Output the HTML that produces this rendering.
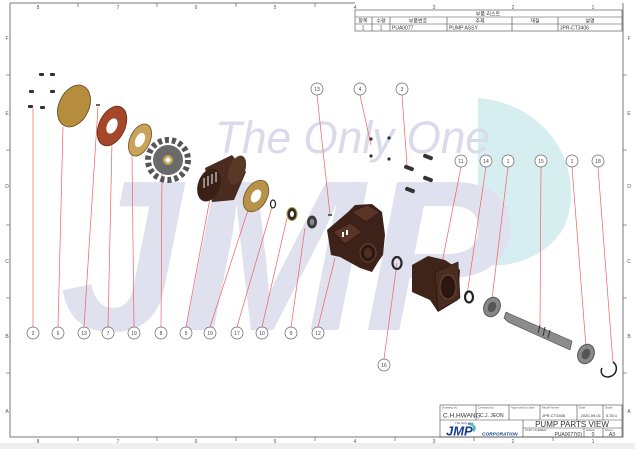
<!DOCTYPE html>
<html><head><meta charset="utf-8"><style>
html,body{margin:0;padding:0;background:#fff}
svg{display:block}
text{font-family:"Liberation Sans","Noto Sans CJK KR",sans-serif}
</style></head><body>
<svg width="635" height="449" viewBox="0 0 635 449" xmlns="http://www.w3.org/2000/svg">
<rect x="0" y="443" width="635" height="6" fill="#efefef"/>
<!-- watermark -->
<path d="M478,98 C555,105 585,175 565,225 C550,255 515,268 485,265 L478,265 Z" fill="#d6eef0"/>
<text x="60" y="330" font-size="215" font-weight="bold" font-style="italic" fill="#dfe1ef" textLength="450" lengthAdjust="spacingAndGlyphs">JMP</text>
<text x="215" y="153" font-size="45" font-style="italic" fill="#d9dbeb" textLength="275" lengthAdjust="spacingAndGlyphs">The Only One</text>
<!-- frame -->
<g stroke="#777" stroke-width="1" fill="none">
<path d="M10,3 V437 H623 V3"/>
<path d="M10,3 H355"/>
</g>
<g stroke="#777" stroke-width="0.8">
<path d="M78,437v4M157,437v4M236,437v4M315,437v4M395,437v4M474,437v4M553,437v4"/>
<path d="M78,3v4M157,3v4M236,3v4M315,3v4"/>
<path d="M10,75h-4M10,150h-4M10,225h-4M10,298h-4M10,373h-4"/>
<path d="M623,75h4M623,150h4M623,225h4M623,298h4M623,373h4"/>
</g>
<g font-size="5" fill="#555" text-anchor="middle">
<text x="38" y="9">8</text><text x="118" y="9">7</text><text x="196" y="9">6</text><text x="275" y="9">5</text><text x="355" y="9">4</text><text x="434" y="9">3</text><text x="513" y="9">2</text><text x="593" y="9">1</text>
<text x="38" y="443">8</text><text x="118" y="443">7</text><text x="196" y="443">6</text><text x="275" y="443">5</text><text x="355" y="443">4</text><text x="434" y="443">3</text><text x="513" y="443">2</text><text x="593" y="443">1</text>
<text x="7" y="40">F</text><text x="7" y="115">E</text><text x="7" y="188">D</text><text x="7" y="263">C</text><text x="7" y="338">B</text><text x="7" y="413">A</text>
<text x="629" y="40">F</text><text x="629" y="115">E</text><text x="629" y="188">D</text><text x="629" y="263">C</text><text x="629" y="338">B</text><text x="629" y="413">A</text>
</g>
<!-- parts list table -->
<g stroke="#444" stroke-width="0.6" fill="none">
<rect x="355" y="10" width="267" height="21"/>
<path d="M355,17H622M355,24H622M372,17V31M390,17V31M447,17V31M512,17V31M558,17V31"/>
</g>
<g font-size="5" fill="#333">
<text x="488" y="15.5" text-anchor="middle">부품 리스트</text>
<text x="363" y="22.5" text-anchor="middle">항목</text><text x="381" y="22.5" text-anchor="middle">수량</text><text x="418" y="22.5" text-anchor="middle">부품번호</text><text x="480" y="22.5" text-anchor="middle">주제</text><text x="535" y="22.5" text-anchor="middle">재질</text><text x="590" y="22.5" text-anchor="middle">설명</text>
<text x="363" y="29.5" text-anchor="middle">1</text><text x="381" y="29.5" text-anchor="middle">1</text><text x="392" y="29.5">PUA0077</text><text x="449" y="29.5">PUMP ASSY</text><text x="560" y="29.5">JPR-CT3406</text>
</g>
<!-- title block -->
<g stroke="#444" stroke-width="0.6" fill="none">
<rect x="440" y="405" width="182" height="32"/>
<path d="M440,420H622M476,405V420M509,405V420M540,405V420M577,405V420M603,405V420M523,420V437M523,428H622M584,428V437M603,428V437"/>
</g>
<g font-size="3" fill="#555">
<text x="442" y="408.5">Drawing by</text><text x="478" y="408.5">Checked by</text><text x="511" y="408.5">Approved by  date</text><text x="542" y="408.5">Model Name</text><text x="579" y="408.5">Date</text><text x="605" y="408.5">Scale</text>
<text x="525" y="431">PART NUMBER</text><text x="586" y="431">Edition</text><text x="605" y="431">Sheet</text>
</g>
<g font-size="5" fill="#333">
<text x="443" y="417.5" font-size="6.5">C.H.HWANG</text><text x="480" y="417">C.J. JEON</text><text x="542" y="417" font-size="4">JPR-CT3406</text><text x="601" y="417" text-anchor="end" font-size="4">2020-09-01</text><text x="606" y="417" font-size="4">0.33:1</text>
<text x="572" y="427" font-size="8" text-anchor="middle">PUMP PARTS VIEW</text>
<text x="582" y="436" text-anchor="end">PUA0077(0)</text><text x="593" y="436" text-anchor="middle">0</text><text x="612" y="436" text-anchor="middle">A3</text>
</g>
<text x="446" y="435.5" font-size="13" font-weight="bold" font-style="italic" fill="#1a3d8f">JMP</text>
<path d="M468,423 C475,423 478,428 474,432 L472,430 C474,428 473,425 468,425Z" fill="#4cb8c4"/>
<text x="482" y="435.5" font-size="4.8" font-weight="bold" font-style="italic" fill="#1a3d8f">CORPORATION</text>
<text x="455" y="424" font-size="3" fill="#1a3d8f">The Only One</text>
<!-- leaders -->
<g stroke="#f06060" stroke-width="0.7" fill="none">
<path d="M33,327L33,108M58,327L63,127M84,327L98,107M108,327L112,142M134,327L132,155M161,327L162,173M186,327L211,193M210,327L248,210M237,327L272,207M262,327L287,218M291,327L305,228M318,327L335,258"/>
<path d="M317,95L330,215M360,95L371,145M402,95L407,165M461,167L441,268M486,167L467,295M508,167L492,299M541,167L540,326M572,167L586,347M598,167L613,363M384,359L397,263"/>
</g>
<!-- parts -->
<g fill="#333">
<rect x="39" y="73" width="5" height="3" rx="1"/><rect x="50" y="73" width="5" height="3" rx="1"/><rect x="29" y="90" width="5" height="3" rx="1"/><rect x="50" y="90" width="5" height="3" rx="1"/><rect x="28" y="105" width="5" height="3" rx="1"/><rect x="40" y="106" width="5" height="3" rx="1"/>
<rect x="96" y="104" width="4" height="2" fill="#666"/>
<rect x="328" y="214" width="4" height="2" fill="#666"/>
<circle cx="371" cy="139" r="1.6"/><circle cx="371" cy="156" r="1.6"/><circle cx="389" cy="138" r="1.6"/><circle cx="389" cy="159" r="1.6"/>
<g transform="rotate(20 428 157)"><rect x="423" y="155" width="10" height="4" rx="1.5"/></g>
<g transform="rotate(20 409 168)"><rect x="404" y="166" width="10" height="4" rx="1.5"/></g>
<g transform="rotate(20 428 179)"><rect x="423" y="177" width="10" height="4" rx="1.5"/></g>
<g transform="rotate(20 410 190)"><rect x="405" y="188" width="10" height="4" rx="1.5"/></g>
</g>
<ellipse cx="74" cy="106" rx="15" ry="22" transform="rotate(25 74 106)" fill="#b58d3c" stroke="#5a4420" stroke-width="0.8"/>
<ellipse cx="112" cy="126" rx="13" ry="21" transform="rotate(25 112 126)" fill="#a4472a" stroke="#5a2a18" stroke-width="0.8"/>
<ellipse cx="112" cy="126" rx="5" ry="8" transform="rotate(25 112 126)" fill="#fff"/>
<ellipse cx="140" cy="140" rx="10" ry="17" transform="rotate(25 140 140)" fill="#c9a35a" stroke="#6a5424" stroke-width="0.8"/>
<ellipse cx="140" cy="140" rx="4.5" ry="7.5" transform="rotate(25 140 140)" fill="#fff"/>
<g transform="translate(168,160)">
<circle r="20" fill="none" stroke="#555" stroke-width="6" stroke-dasharray="4 3"/>
<circle r="15" fill="#6a6a6a"/><circle r="5" fill="#c9a35a"/><circle r="2.5" fill="#fff"/>
</g>
<g>
<path d="M205,168 L232,155 L246,172 L234,200 L212,202 Z" fill="#4a2b1f"/>
<ellipse cx="209" cy="185" rx="11" ry="17" transform="rotate(20 209 185)" fill="#3a2016"/>
<ellipse cx="237" cy="170" rx="8" ry="15" transform="rotate(20 237 170)" fill="#5a3828"/>
<g stroke="#fff" stroke-width="1.6" opacity="0.6"><path d="M204,178v10M208,176v10M212,174v10M216,172v10"/></g>
</g>
<ellipse cx="256" cy="196" rx="11" ry="17" transform="rotate(30 256 196)" fill="#b9924a" stroke="#6a5424" stroke-width="0.8"/>
<ellipse cx="256" cy="196" rx="4.5" ry="7" transform="rotate(30 256 196)" fill="#fff"/>
<ellipse cx="273" cy="204" rx="2.5" ry="4" fill="none" stroke="#222" stroke-width="1.2"/>
<ellipse cx="292" cy="214" rx="5" ry="6.5" fill="#2e2a26" stroke="#b59a50" stroke-width="1"/>
<ellipse cx="292" cy="214" rx="2" ry="3" fill="#fff"/>
<ellipse cx="312" cy="222" rx="5" ry="6.5" fill="#3a3a3a"/><ellipse cx="312" cy="222" rx="2.3" ry="3.3" fill="#888"/>
<!-- housing 12 -->
<g>
<path d="M327,230 L348,212 L355,205 L372,204 L382,212 L385,235 L383,255 L378,262 L372,272 L360,268 L340,257 L331,255 Z" fill="#3d2219"/>
<path d="M333,232 L350,223 L362,232 L345,244 Z" fill="#5a3527" stroke="#2a140d" stroke-width="0.6"/>
<path d="M352,212 L367,205 L380,212 L366,222 Z" fill="#5a3527" stroke="#2a140d" stroke-width="0.6"/>
<ellipse cx="368" cy="253" rx="8" ry="9" fill="#2e1912" stroke="#6a4434" stroke-width="1"/>
<ellipse cx="368" cy="253" rx="4" ry="5" fill="#4d3024"/>
<rect x="342" y="232" width="2" height="5" fill="#fff"/><rect x="346" y="230" width="2" height="5" fill="#fff"/>
</g>
<ellipse cx="397" cy="263" rx="4.5" ry="6" fill="none" stroke="#2a2a2a" stroke-width="2.2"/>
<!-- 11 -->
<g>
<path d="M412,265 L428,256 L445,260 L460,270 L458,300 L438,312 L430,300 L412,292 Z" fill="#3e2419"/>
<path d="M435,272 L458,262 L460,298 L438,311 Z" fill="#4a2c20" stroke="#22110b" stroke-width="0.6"/>
<ellipse cx="448" cy="287" rx="8" ry="12" fill="#2b1710" stroke="#6d4a36" stroke-width="1"/>
</g>
<ellipse cx="469" cy="297" rx="4" ry="5.5" fill="none" stroke="#222" stroke-width="2.2"/>
<ellipse cx="492" cy="307" rx="8" ry="10" transform="rotate(25 492 307)" fill="#888" stroke="#555" stroke-width="1"/>
<ellipse cx="492" cy="307" rx="4" ry="5.5" transform="rotate(25 492 307)" fill="#555"/>
<!-- shaft -->
<path d="M506,312 L510,314 L572,341 L570,350 L508,322 L504,318 Z" fill="#8c8c8c" stroke="#444" stroke-width="0.6"/>
<path d="M540,325 L538,333 M545,327 L543,336 M550,330 L548,338" stroke="#333" stroke-width="1"/>
<ellipse cx="586" cy="354" rx="8" ry="10" transform="rotate(25 586 354)" fill="#888" stroke="#555" stroke-width="1"/>
<ellipse cx="586" cy="354" rx="4" ry="5.5" transform="rotate(25 586 354)" fill="#555"/>
<path d="M613,362 C619,366 617,376 608,377 C602,377 600,372 602,368" fill="none" stroke="#222" stroke-width="1.5"/>
<!-- callouts -->
<g fill="#fff" stroke="#666" stroke-width="0.7">
<circle cx="33" cy="333" r="6"/><circle cx="58" cy="333" r="6"/><circle cx="84" cy="333" r="6"/><circle cx="108" cy="333" r="6"/><circle cx="134" cy="333" r="6"/><circle cx="161" cy="333" r="6"/><circle cx="186" cy="333" r="6"/><circle cx="210" cy="333" r="6"/><circle cx="237" cy="333" r="6"/><circle cx="262" cy="333" r="6"/><circle cx="291" cy="333" r="6"/><circle cx="318" cy="333" r="6"/>
<circle cx="317" cy="89" r="6"/><circle cx="360" cy="89" r="6"/><circle cx="402" cy="89" r="6"/><circle cx="461" cy="161" r="6"/><circle cx="486" cy="161" r="6"/><circle cx="508" cy="161" r="6"/><circle cx="541" cy="161" r="6"/><circle cx="572" cy="161" r="6"/><circle cx="598" cy="161" r="6"/><circle cx="384" cy="365" r="6"/>
</g>
<g font-size="5" fill="#444" text-anchor="middle">
<text x="33" y="335">2</text><text x="58" y="335">6</text><text x="84" y="335">13</text><text x="108" y="335">7</text><text x="134" y="335">19</text><text x="161" y="335">8</text><text x="186" y="335">5</text><text x="210" y="335">19</text><text x="237" y="335">17</text><text x="262" y="335">10</text><text x="291" y="335">9</text><text x="318" y="335">12</text>
<text x="317" y="91">13</text><text x="360" y="91">4</text><text x="402" y="91">3</text><text x="461" y="163">11</text><text x="486" y="163">14</text><text x="508" y="163">1</text><text x="541" y="163">15</text><text x="572" y="163">1</text><text x="598" y="163">18</text><text x="384" y="367">16</text>
</g>
</svg>
</body></html>
